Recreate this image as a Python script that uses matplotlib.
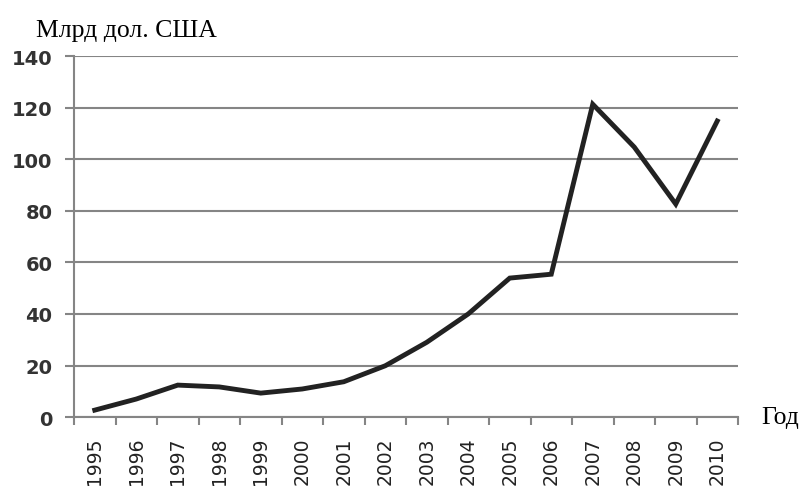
import matplotlib
matplotlib.use("Agg")
import matplotlib.pyplot as plt
import numpy as np

# Данные
years = ["1995", "1996", "1997", "1998", "1999", "2000", "2001", "2002",
         "2003", "2004", "2005", "2006", "2007", "2008", "2009", "2010"]
values = [2.7, 7, 12.4, 11.7, 9.3, 10.9, 13.7, 19.9,
          29, 40, 53.9, 55.4, 121.3, 104.7, 82.6, 114.8]
y_ticks = [0, 20, 40, 60, 80, 100, 120, 140]

grid_col = "#858585"

fig = plt.figure(figsize=(8.07, 4.89), dpi=100)
ax = fig.add_axes([0.0917, 0.145, 0.8228, 0.7384])

x = np.arange(len(years))
ax.plot(x, values, color="#222222", lw=3.5, solid_joinstyle="miter", zorder=3)

ax.set_xlim(-0.5, len(years) - 0.5)
ax.set_ylim(0, 140)

# Сетка
ax.set_yticks(y_ticks)
ax.set_yticklabels([str(v) for v in y_ticks], fontsize=14, family="DejaVu Sans",
                   fontweight="bold", color="#333333")
ax.yaxis.grid(True, color=grid_col, lw=1.5)
ax.set_axisbelow(True)

# Деления по оси X между категориями, подписи по центру
ax.set_xticks(np.arange(-0.5, len(years), 1.0))
ax.set_xticklabels([])
ax.set_xticks(x, minor=True)
ax.set_xticklabels(years, minor=True, rotation=90, fontsize=13.5, family="DejaVu Sans", color="#222222")
ax.tick_params(axis="x", which="major", length=6, width=1.5, color=grid_col, direction="out")
ax.tick_params(axis="x", which="minor", length=0, pad=14)
ax.tick_params(axis="y", length=6.5, width=1.5, color=grid_col, pad=9)

for s in ["top", "right"]:
    ax.spines[s].set_visible(False)
for s in ["left", "bottom"]:
    ax.spines[s].set_color(grid_col)
    ax.spines[s].set_linewidth(1.5)

fig.text(36 / 807, 1 - 37 / 489, "Млрд дол. США", fontsize=18.5, family="Liberation Serif",
         ha="left", va="baseline")
fig.text(761 / 807, 1 - 424 / 489, "Год", fontsize=18.5, family="Liberation Serif",
         ha="left", va="baseline")

fig.savefig("out.png", dpi=100)
